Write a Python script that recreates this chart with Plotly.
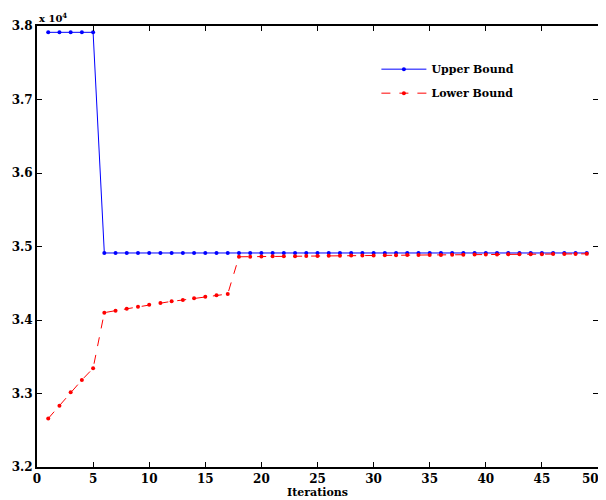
import plotly.graph_objects as go

iterations = list(range(1, 50))
upper_bound = [37914] * 5 + [34912] * 44
lower_bound = [32660, 32834, 33016, 33184, 33343, 34100, 34127, 34154, 34180, 34209,
               34231, 34254, 34272, 34295, 34317, 34336, 34354, 34860, 34862, 34864,
               34866, 34868, 34869, 34870, 34872, 34873, 34875, 34876, 34878, 34879,
               34880, 34882, 34883, 34884, 34885, 34886, 34888, 34889, 34890, 34891,
               34892, 34893, 34894, 34895, 34896, 34897, 34898, 34899, 34900]
y_ticks = [32000, 33000, 34000, 35000, 36000, 37000, 38000]
y_tick_labels = ["3.2", "3.3", "3.4", "3.5", "3.6", "3.7", "3.8"]
x_ticks = list(range(0, 51, 5))
x_tick_labels = [str(v) for v in x_ticks]

FAM = "DejaVu Serif"
font = dict(family=FAM, size=12, color="black")

x_text = ["<b>%s</b>" % t for t in x_tick_labels]
x_text[-1] = x_text[-1] + "\u00a0\u00a0\u00a0\u00a0"

fig = go.Figure()
fig.add_trace(go.Scatter(x=iterations, y=upper_bound, mode="lines+markers",
                         name="<b>Upper Bound</b>", legendgroup="u",
                         line=dict(color="#0000ff", width=1),
                         marker=dict(color="#0000ff", size=4)))
fig.add_trace(go.Scatter(x=iterations, y=lower_bound, mode="lines+markers",
                         name="<b>Lower Bound</b>", legendgroup="l",
                         line=dict(color="#ff0000", width=1, dash="dash"),
                         marker=dict(color="#ff0000", size=4)))

fig.update_layout(
    width=598, height=492,
    margin=dict(l=29, r=8, t=18, b=33),
    paper_bgcolor="white", plot_bgcolor="white",
    font=font,
    showlegend=True,
    legend=dict(x=0.605, y=0.935, xanchor="left", yanchor="top",
                bgcolor="rgba(0,0,0,0)", font=dict(family=FAM, size=11),
                tracegroupgap=5, itemwidth=45),
    xaxis=dict(range=[0, 50], tickvals=x_ticks, ticktext=x_text,
               ticklabeloverflow="allow",
               ticks="inside", ticklen=5, tickcolor="black",
               showline=True, linecolor="black", linewidth=2, mirror="ticks",
               showgrid=False, zeroline=False, automargin=False,
               title=dict(text="<b>Iterations</b>", standoff=0,
                          font=dict(family=FAM, size=11))),
    yaxis=dict(range=[32000, 38000], tickvals=y_ticks,
               ticktext=["<b>%s</b>" % t for t in y_tick_labels],
               ticklabeloverflow="allow",
               ticks="inside", ticklen=5, tickcolor="black",
               showline=True, linecolor="black", linewidth=2, mirror="ticks",
               showgrid=False, zeroline=False, automargin=False),
    annotations=[dict(text="<b>x 10<sup>4</sup></b>", xref="paper", yref="paper",
                      x=0.0, y=1.0, xanchor="left", yanchor="bottom",
                      showarrow=False, font=dict(family=FAM, size=10))],
)

fig.write_html("out.html")
